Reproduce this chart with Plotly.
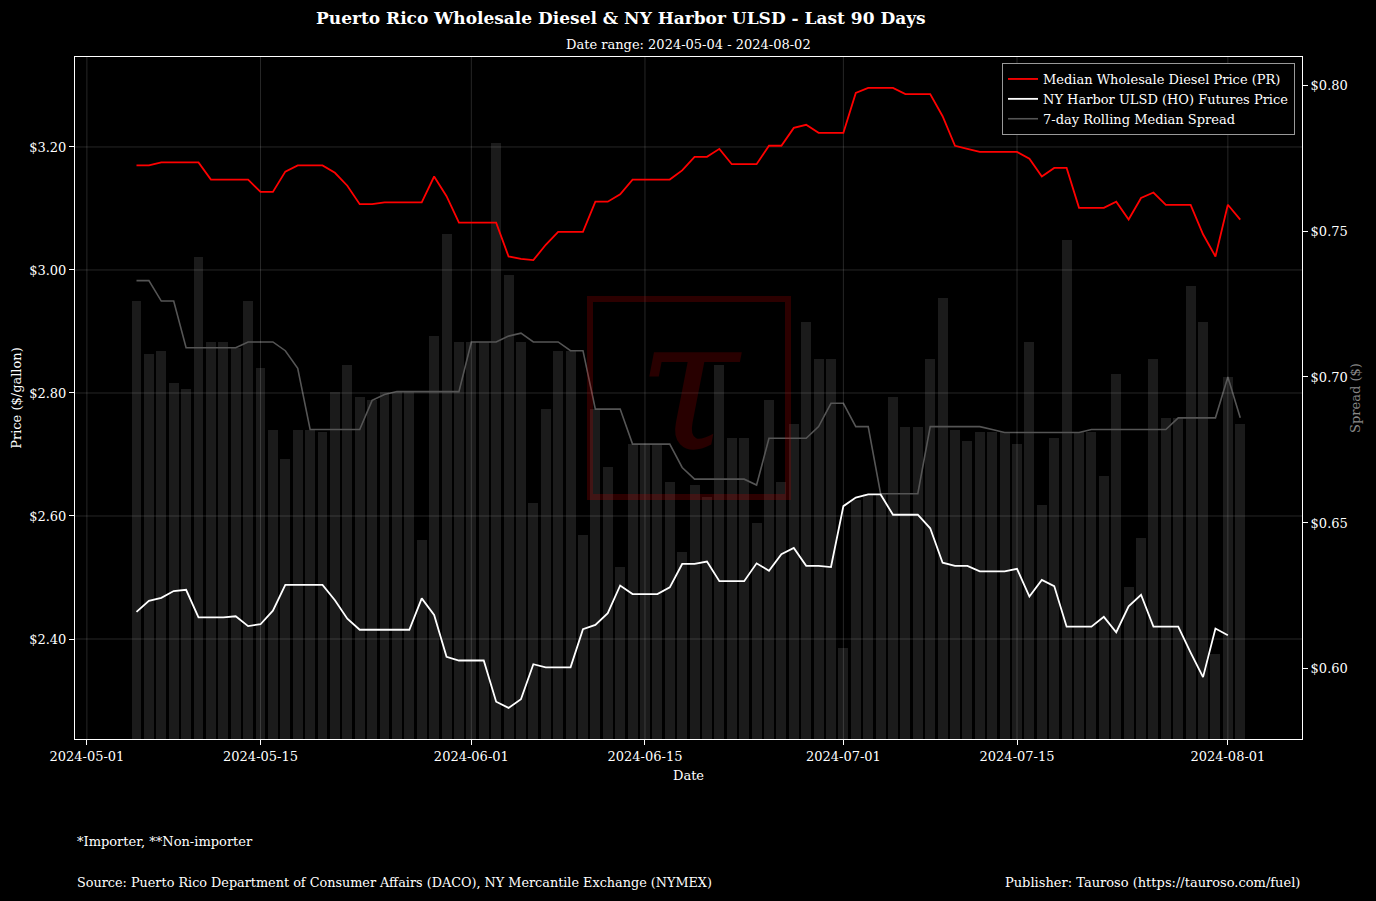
import pandas as pd
import plotly.graph_objects as go

start_date = "2024-05-05"
n_days = 90
dates = pd.date_range(start_date, periods=n_days, freq="D")

pr_price = [
    3.170, 3.170, 3.175, 3.175, 3.175, 3.175, 3.147, 3.147, 3.147, 3.147,
    3.127, 3.127, 3.160, 3.170, 3.170, 3.170, 3.158, 3.137, 3.107, 3.107,
    3.110, 3.110, 3.110, 3.110, 3.152, 3.120, 3.077, 3.077, 3.077, 3.077,
    3.022, 3.018, 3.016, 3.041, 3.062, 3.062, 3.062, 3.111, 3.111, 3.123,
    3.147, 3.147, 3.147, 3.147, 3.162, 3.184, 3.184, 3.197, 3.172, 3.172,
    3.172, 3.202, 3.202, 3.231, 3.236, 3.223, 3.223, 3.223, 3.288, 3.296,
    3.296, 3.296, 3.286, 3.286, 3.286, 3.250, 3.202, 3.197, 3.192, 3.192,
    3.192, 3.192, 3.181, 3.152, 3.166, 3.166, 3.101, 3.101, 3.101, 3.111,
    3.082, 3.117, 3.126, 3.106, 3.106, 3.106, 3.058, 3.022, 3.106, 3.082,
]

ho_price = [
    2.444, 2.462, 2.467, 2.478, 2.480, 2.435, 2.435, 2.435, 2.437, 2.421,
    2.424, 2.446, 2.488, 2.488, 2.488, 2.488, 2.463, 2.433, 2.415, 2.415,
    2.415, 2.415, 2.415, 2.466, 2.439, 2.371, 2.365, 2.365, 2.365, 2.298,
    2.288, 2.302, 2.359, 2.354, 2.354, 2.354, 2.416, 2.423, 2.442, 2.487,
    2.473, 2.473, 2.473, 2.484, 2.522, 2.522, 2.526, 2.494, 2.494, 2.494,
    2.523, 2.511, 2.538, 2.548, 2.519, 2.519, 2.517, 2.616, 2.630, 2.635,
    2.635, 2.602, 2.602, 2.602, 2.580, 2.524, 2.519, 2.519, 2.510, 2.510,
    2.510, 2.514, 2.469, 2.496, 2.486, 2.420, 2.420, 2.420, 2.436, 2.411,
    2.453, 2.472, 2.420, 2.420, 2.420, 2.378, 2.338, 2.417, 2.406, None,
]

daily_spread = [
    0.726, 0.708, 0.709, 0.698, 0.696, 0.741, 0.712, 0.712, 0.710, 0.726,
    0.703, 0.682, 0.672, 0.682, 0.682, 0.681, 0.695, 0.704, 0.693, 0.692,
    0.695, 0.695, 0.695, 0.644, 0.714, 0.749, 0.712, 0.712, 0.712, 0.780,
    0.735, 0.712, 0.657, 0.689, 0.709, 0.709, 0.646, 0.689, 0.669, 0.635,
    0.677, 0.677, 0.677, 0.664, 0.640, 0.663, 0.659, 0.704, 0.679, 0.679,
    0.650, 0.692, 0.664, 0.684, 0.719, 0.706, 0.706, 0.607, 0.658, 0.660,
    0.660, 0.693, 0.683, 0.683, 0.706, 0.727, 0.682, 0.678, 0.681, 0.681,
    0.681, 0.677, 0.712, 0.656, 0.679, 0.747, 0.681, 0.681, 0.666, 0.701,
    0.628, 0.645, 0.706, 0.686, 0.686, 0.731, 0.719, 0.605, 0.700, 0.684,
]

rolling_spread = [
    0.733, 0.733, 0.726, 0.726, 0.710, 0.710, 0.710, 0.710, 0.710, 0.712,
    0.712, 0.712, 0.709, 0.703, 0.682, 0.682, 0.682, 0.682, 0.682, 0.692,
    0.694, 0.695, 0.695, 0.695, 0.695, 0.695, 0.695, 0.712, 0.712, 0.712,
    0.714, 0.715, 0.712, 0.712, 0.712, 0.709, 0.709, 0.689, 0.689, 0.689,
    0.677, 0.677, 0.677, 0.677, 0.669, 0.665, 0.665, 0.665, 0.665, 0.665,
    0.663, 0.679, 0.679, 0.679, 0.679, 0.683, 0.691, 0.691, 0.683, 0.683,
    0.660, 0.660, 0.660, 0.660, 0.683, 0.683, 0.683, 0.683, 0.683, 0.682,
    0.681, 0.681, 0.681, 0.681, 0.681, 0.681, 0.681, 0.682, 0.682, 0.682,
    0.682, 0.682, 0.682, 0.682, 0.686, 0.686, 0.686, 0.686, 0.700, 0.686,
]

x_ticks = ["2024-05-01", "2024-05-15", "2024-06-01", "2024-06-15",
           "2024-07-01", "2024-07-15", "2024-08-01"]
price_ticks = [2.40, 2.60, 2.80, 3.00, 3.20]
price_tick_labels = ["$2.40", "$2.60", "$2.80", "$3.00", "$3.20"]
spread_ticks = [0.60, 0.65, 0.70, 0.75, 0.80]
spread_tick_labels = ["$0.60", "$0.65", "$0.70", "$0.75", "$0.80"]

title_text = "Puerto Rico Wholesale Diesel & NY Harbor ULSD - Last 90 Days"
subtitle_text = "Date range: 2024-05-04 - 2024-08-02"

FONT = "DejaVu Serif"
X_RANGE = ["2024-04-30 01:00", "2024-08-06 23:30"]
PRICE_RANGE = [2.2374, 3.3463]
SPREAD_RANGE = [0.576, 0.8096]
GRID_COLOR = "rgba(255,255,255,0.15)"

fig = go.Figure()

# Spread bars + rolling median on base axis (right side)
fig.add_trace(go.Bar(
    x=dates, y=daily_spread, yaxis="y", width=0.8 * 86400000,
    marker=dict(color="#1b1b1b", line=dict(width=0)),
    showlegend=False, name="Daily Spread", hoverinfo="skip",
))
fig.add_trace(go.Scatter(
    x=dates, y=rolling_spread, yaxis="y", mode="lines",
    line=dict(color="#555555", width=1.6),
    name="7-day Rolling Median Spread", legendrank=3,
))

# Grid lines of the price axes, drawn above the bars but below the price lines
gx, gy = [], []
for v in price_ticks:
    gx += [X_RANGE[0], X_RANGE[1], None]
    gy += [v, v, None]
for d in x_ticks:
    gx += [d, d, None]
    gy += [PRICE_RANGE[0], PRICE_RANGE[1], None]
fig.add_trace(go.Scatter(
    x=gx, y=gy, yaxis="y2", mode="lines",
    line=dict(color=GRID_COLOR, width=1),
    showlegend=False, hoverinfo="skip", cliponaxis=True,
))

# Prices on overlay axis (left side)
fig.add_trace(go.Scatter(
    x=dates, y=pr_price, yaxis="y2", mode="lines",
    line=dict(color="#ff0000", width=1.8),
    name="Median Wholesale Diesel Price (PR)", legendrank=1,
))
fig.add_trace(go.Scatter(
    x=dates, y=ho_price, yaxis="y2", mode="lines",
    line=dict(color="#ffffff", width=1.8),
    name="NY Harbor ULSD (HO) Futures Price", legendrank=2,
))

L, R, T, B = 75, 1302, 57, 739
W, H = 1376, 901
pw, ph = R - L, B - T


def px(xp):
    return (xp - L) / pw


def py(yp):
    return (B - yp) / ph


TICKFONT = dict(family=FONT, size=13, color="#ffffff")

fig.update_layout(
    width=W, height=H,
    margin=dict(l=L, r=W - R, t=T, b=H - B, pad=0),
    paper_bgcolor="#000000", plot_bgcolor="#000000",
    font=dict(family=FONT, color="#ffffff", size=13),
    bargap=0,
    showlegend=True,
    legend=dict(
        x=px(1295), y=py(63), xanchor="right", yanchor="top",
        bgcolor="#000000", bordercolor="#999999", borderwidth=1,
        font=dict(family=FONT, size=13, color="#ffffff"),
        itemwidth=30, tracegroupgap=0,
    ),
    xaxis=dict(
        type="date",
        range=X_RANGE,
        tickvals=x_ticks, ticktext=x_ticks,
        showgrid=False,
        showline=True, linecolor="#ffffff", linewidth=1, mirror=True,
        ticks="outside", ticklen=5, tickcolor="#ffffff",
        tickfont=TICKFONT,
        title=dict(text="Date", font=dict(family=FONT, size=13, color="#ffffff"), standoff=8),
        zeroline=False,
    ),
    yaxis=dict(
        side="right",
        range=SPREAD_RANGE,
        tickvals=spread_ticks, ticktext=spread_tick_labels,
        showgrid=False, zeroline=False,
        showline=True, linecolor="#ffffff", linewidth=1,
        ticks="outside", ticklen=5, tickcolor="#ffffff",
        tickfont=TICKFONT,
        title=dict(text="Spread ($)", font=dict(family=FONT, size=13, color="#888888"), standoff=4),
    ),
    yaxis2=dict(
        side="left", overlaying="y",
        range=PRICE_RANGE,
        tickvals=price_ticks, ticktext=price_tick_labels,
        showgrid=False, zeroline=False,
        showline=True, linecolor="#ffffff", linewidth=1,
        ticks="outside", ticklen=5, tickcolor="#ffffff",
        tickfont=TICKFONT,
        title=dict(text="Price ($/gallon)", font=dict(family=FONT, size=13, color="#ffffff"), standoff=4),
    ),
)

# Watermark: square outline and tau glyph
fig.add_shape(
    type="rect", xref="paper", yref="paper",
    x0=px(590), x1=px(788), y0=py(497), y1=py(299),
    line=dict(color="rgba(200,0,0,0.22)", width=6),
    fillcolor="rgba(0,0,0,0)", layer="above",
)
fig.add_annotation(
    text="<i>τ</i>", xref="paper", yref="paper", x=px(689), y=py(385),
    xanchor="center", yanchor="middle", showarrow=False,
    font=dict(family=FONT, size=185, color="rgba(200,0,0,0.2)"),
)

# Titles
fig.add_annotation(
    text="<b>" + title_text + "</b>", xref="paper", yref="paper",
    x=px(621), y=py(18), xanchor="center", yanchor="middle", showarrow=False,
    font=dict(family=FONT, size=17, color="#ffffff"),
)
fig.add_annotation(
    text=subtitle_text, xref="paper", yref="paper",
    x=px(688), y=py(44), xanchor="center", yanchor="middle", showarrow=False,
    font=dict(family=FONT, size=13, color="#ffffff"),
)

# Footer notes
fig.add_annotation(
    text="*Importer, **Non-importer", xref="paper", yref="paper",
    x=0, y=py(841), xanchor="left", yanchor="middle", showarrow=False,
    font=dict(family=FONT, size=13, color="#ffffff"),
)
fig.add_annotation(
    text="Source: Puerto Rico Department of Consumer Affairs (DACO), NY Mercantile Exchange (NYMEX)",
    xref="paper", yref="paper",
    x=0, y=py(882), xanchor="left", yanchor="middle", showarrow=False,
    font=dict(family=FONT, size=12.8, color="#ffffff"),
)
fig.add_annotation(
    text="Publisher: Tauroso (https://tauroso.com/fuel)", xref="paper", yref="paper",
    x=1, y=py(882), xanchor="right", yanchor="middle", showarrow=False,
    font=dict(family=FONT, size=13, color="#ffffff"),
)

fig.write_html(
    "out.html",
    config={"displayModeBar": False},
    post_script="document.body.style.margin='0';document.body.style.background='#000';",
)
